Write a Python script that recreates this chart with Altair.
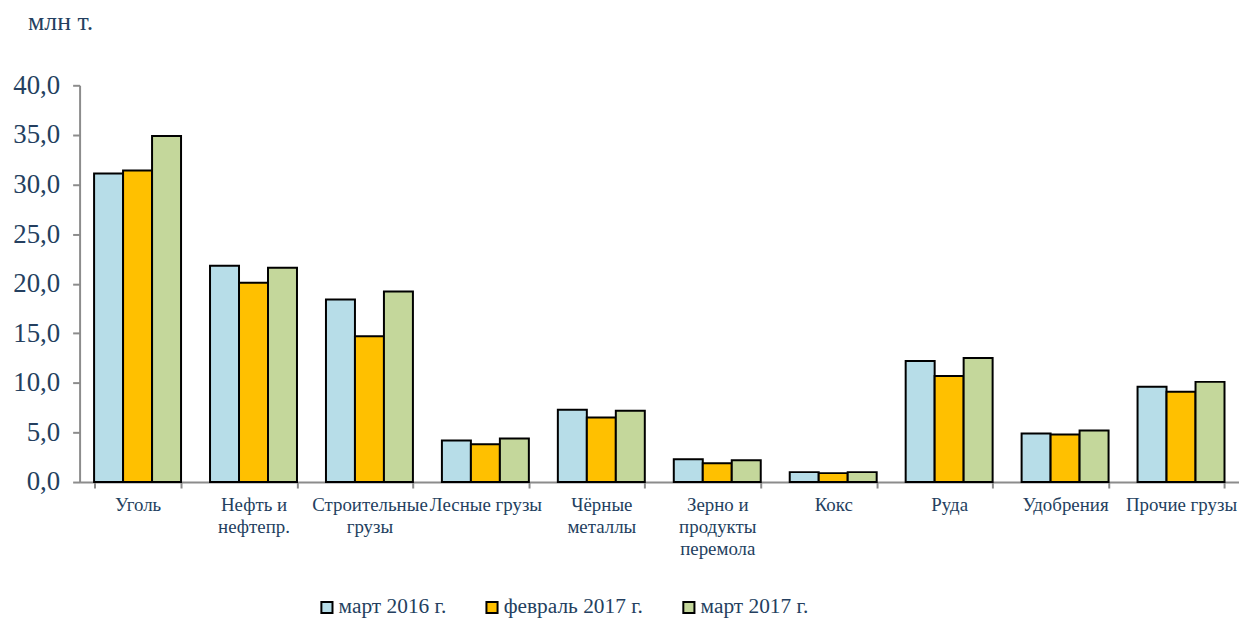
import altair as alt
import pandas as pd

categories = ["Уголь", "Нефть и\nнефтепр.", "Строительные\nгрузы", "Лесные грузы",
              "Чёрные\nметаллы", "Зерно и\nпродукты\nперемола", "Кокс", "Руда",
              "Удобрения", "Прочие грузы"]
series = ["март 2016 г.", "февраль 2017 г.", "март 2017 г."]
mar2016 = [31.1, 21.8, 18.4, 4.2, 7.3, 2.3, 1.0, 12.2, 4.9, 9.6]
feb2017 = [31.4, 20.1, 14.7, 3.8, 6.5, 1.9, 0.9, 10.7, 4.8, 9.1]
mar2017 = [34.9, 21.6, 19.2, 4.4, 7.2, 2.2, 1.0, 12.5, 5.2, 10.1]
colors = ["#B7DDE8", "#FFC000", "#C4D79B"]

rows = []
for s, vals in zip(series, [mar2016, feb2017, mar2017]):
    for c, v in zip(categories, vals):
        rows.append({"cat": c, "series": s, "value": v})
df = pd.DataFrame(rows)

FONT = "'Liberation Serif', 'Times New Roman', serif"
TXT = "#243F60"
AXC = "#8C8C8C"

chart = alt.Chart(df).mark_bar(stroke="black", strokeWidth=2).encode(
    x=alt.X("cat:N", sort=categories, title=None,
            scale=alt.Scale(paddingInner=0.25, paddingOuter=0.125),
            axis=alt.Axis(labelAngle=0, labelExpr="split(datum.label, '\\n')",
                          labelFont=FONT, labelFontSize=19, labelColor=TXT,
                          labelPadding=8, labelLineHeight=22, labelBaseline="top",
                          labelLimit=200,
                          domainColor=AXC, domainWidth=2,
                          tickColor=AXC, tickWidth=2, tickSize=6,
                          tickBand="extent", grid=False)),
    xOffset=alt.XOffset("series:N", sort=series),
    y=alt.Y("value:Q", title=None,
            scale=alt.Scale(domain=[0, 40]),
            axis=alt.Axis(values=[0, 5, 10, 15, 20, 25, 30, 35, 40],
                          labelExpr="replace(format(datum.value, '.1f'), '.', ',')",
                          labelFont=FONT, labelFontSize=27, labelColor=TXT,
                          labelPadding=13,
                          domainColor=AXC, domainWidth=2,
                          tickColor=AXC, tickWidth=2, tickSize=7,
                          grid=False)),
    color=alt.Color("series:N", sort=series,
                    scale=alt.Scale(domain=series, range=colors),
                    legend=alt.Legend(title=None, orient="none", direction="horizontal",
                                      legendX=238, legendY=514,
                                      symbolType="square", symbolSize=125,
                                      symbolStrokeColor="black", symbolStrokeWidth=2,
                                      labelFont=FONT, labelFontSize=21.5, labelColor=TXT,
                                      columnPadding=35, labelOffset=1)),
).properties(
    width=1166, height=399,
    autosize=alt.AutoSizeParams(type="none"),
    padding={"left": 72, "top": 76, "right": 0, "bottom": 138},
    title=alt.TitleParams("млн т.", anchor="start", frame="group", dx=-52,
                          font=FONT, fontSize=26, fontWeight="normal", color=TXT,
                          offset=37),
).configure_view(stroke=None)

chart.save("out.html", embed_options={"renderer": "svg", "actions": False})
